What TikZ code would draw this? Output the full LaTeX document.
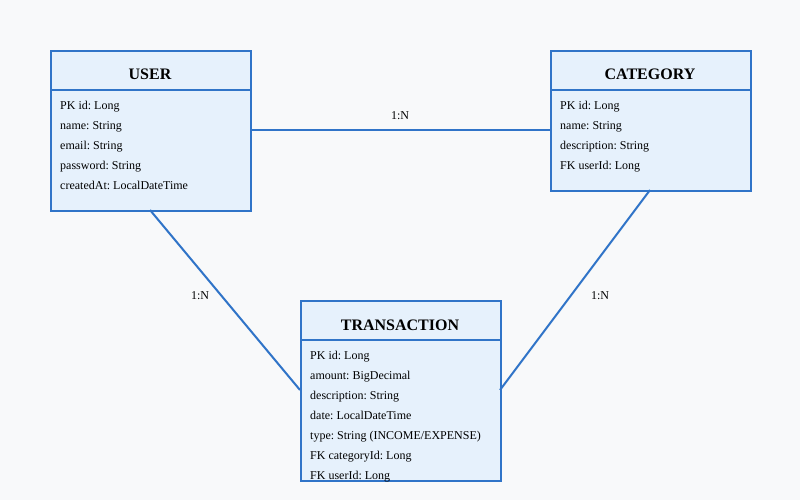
\documentclass[tikz,border=0pt]{standalone}
\usepackage{fontspec}
\setmainfont{Liberation Serif}
\frenchspacing
\definecolor{bg}{HTML}{F8F9FA}
\definecolor{boxfill}{HTML}{E6F1FC}
\definecolor{boxline}{HTML}{3074C8}
\begin{document}
\begin{tikzpicture}[x=1pt,y=-1pt,
  entity/.style={draw=boxline,fill=boxfill,line width=2pt},
  sep/.style={draw=boxline,line width=2pt},
  conn/.style={draw=boxline,line width=2pt},
  ttl/.style={font=\fontsize{16}{19}\selectfont\bfseries,anchor=base,inner sep=0pt},
  attr/.style={font=\fontsize{12}{14}\selectfont\frenchspacing,anchor=base west,inner sep=0pt},
  lbl/.style={font=\fontsize{12}{14}\selectfont,anchor=base,inner sep=0pt}]
\fill[bg] (0,0) rectangle (800,500);
\useasboundingbox (0,0) rectangle (800,500);
% USER
\node[entity,minimum width=200pt,minimum height=160pt,inner sep=0pt,anchor=north west] (user) at (50,50) {};
\draw[sep] (50,90) -- (250,90);
\node[ttl] (usert) at (150,80) {USER};
\node[attr] (u1) at (60,109.5) {PK id: Long};
\node[attr] (u2) at (60,129.5) {name: String};
\node[attr] (u3) at (60,149.5) {email: String};
\node[attr] (u4) at (60,169.5) {password: String};
\node[attr] (u5) at (60,189.5) {createdAt: LocalDateTime};
% CATEGORY
\node[entity,minimum width=200pt,minimum height=140pt,inner sep=0pt,anchor=north west] (cat) at (550,50) {};
\draw[sep] (550,90) -- (750,90);
\node[ttl] (catt) at (650,80) {CATEGORY};
\node[attr] (c1) at (560,109.5) {PK id: Long};
\node[attr] (c2) at (560,129.5) {name: String};
\node[attr] (c3) at (560,149.5) {description: String};
\node[attr] (c4) at (560,169.5) {FK userId: Long};
% TRANSACTION
\node[entity,minimum width=200pt,minimum height=180pt,inner sep=0pt,anchor=north west] (tr) at (300,300) {};
\draw[sep] (300,340) -- (500,340);
\node[ttl] (trt) at (400,330) {TRANSACTION};
\node[attr] (t1) at (310,359.5) {PK id: Long};
\node[attr] (t2) at (310,379.5) {amount: BigDecimal};
\node[attr] (t3) at (310,399.5) {description: String};
\node[attr] (t4) at (310,419.5) {date: LocalDateTime};
\node[attr] (t5) at (310,439.5) {type: String (INCOME/EXPENSE)};
\node[attr] (t6) at (310,459.5) {FK categoryId: Long};
\node[attr] (t7) at (310,479.5) {FK userId: Long};
% connectors
\coordinate (ur) at (250,130);
\coordinate (cl) at (550,130);
\coordinate (ub) at (150,210);
\coordinate (tl) at (300,390);
\coordinate (cb) at (650,190);
\coordinate (trr) at (500,390);
\draw[conn] (ur) -- (cl);
\draw[conn] (ub) -- (tl);
\draw[conn] (cb) -- (trr);
\node[lbl] (l1) at (400,119.5) {1:N};
\node[lbl] (l2) at (200,299.5) {1:N};
\node[lbl] (l3) at (600,299.5) {1:N};
\end{tikzpicture}
\end{document}
